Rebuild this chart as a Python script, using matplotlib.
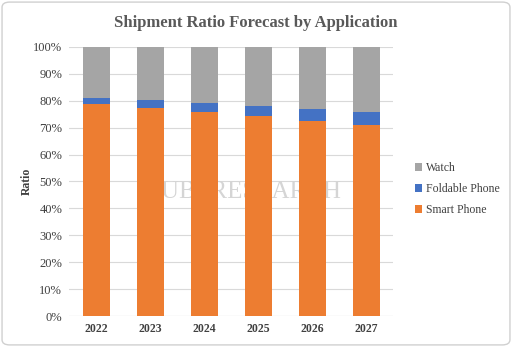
import numpy as np
import matplotlib.pyplot as plt
from matplotlib.patches import FancyBboxPatch

plt.rcParams['font.family'] = ['Liberation Serif', 'DejaVu Serif']

years = ['2022', '2023', '2024', '2025', '2026', '2027']
smart = [78.7, 77.4, 75.9, 74.3, 72.6, 71.0]
foldable = [2.2, 2.9, 3.4, 3.7, 4.3, 4.7]
watch = [100 - s - f for s, f in zip(smart, foldable)]

fig = plt.figure(figsize=(5.12, 3.47), dpi=100)
ax = fig.add_axes([0.135, 0.089, 0.633, 0.776])

x = np.arange(len(years))
w = 0.5
ax.bar(x, smart, w, color='#ED7D31', label='Smart Phone', zorder=3)
ax.bar(x, foldable, w, bottom=smart, color='#4472C4', label='Foldable Phone', zorder=3)
bot2 = np.array(smart) + np.array(foldable)
ax.bar(x, watch, w, bottom=bot2, color='#A5A5A5', label='Watch', zorder=3)

ax.set_xlim(-0.5, len(years) - 0.5)
ax.set_ylim(0, 100)
ax.set_yticks(np.arange(0, 101, 10))
ax.set_yticklabels([f'{v}%' for v in range(0, 101, 10)], fontsize=9, color='#404040')
ax.set_xticks(x)
ax.set_xticklabels(years, fontsize=8.5, fontweight='bold', color='#404040')
ax.tick_params(length=0, pad=5)
ax.grid(axis='y', color='#D9D9D9', linewidth=0.8, zorder=0)
for s in ax.spines.values():
    s.set_visible(False)
ax.axhline(0, color='#D9D9D9', linewidth=0.8, zorder=1)
ax.set_ylabel('Ratio', fontsize=8.5, fontweight='bold', color='#404040', labelpad=0)

fig.text(0.5, 0.935, 'Shipment Ratio Forecast by Application', ha='center', va='center',
         fontsize=12, fontweight='bold', color='#595959')

# watermark (behind the bars)
ax.text(0.56, 0.46, 'UBI RESEARCH', transform=ax.transAxes, ha='center', va='center',
        fontsize=18, color='#D5D5D5', zorder=2)

h, l = ax.get_legend_handles_labels()
fig.legend(h[::-1], l[::-1], loc='center left', bbox_to_anchor=(0.79, 0.455),
           frameon=False, fontsize=8.5, handlelength=0.6, handleheight=0.6,
           handletextpad=0.3, labelspacing=0.75, labelcolor='#404040')

fig.patches.append(FancyBboxPatch((0.004, 0.006), 0.992, 0.988,
                                  boxstyle='round,pad=0,rounding_size=0.015',
                                  transform=fig.transFigure, fill=False,
                                  edgecolor='#D0D0D0', linewidth=1))

fig.savefig('out.png', dpi=100)
